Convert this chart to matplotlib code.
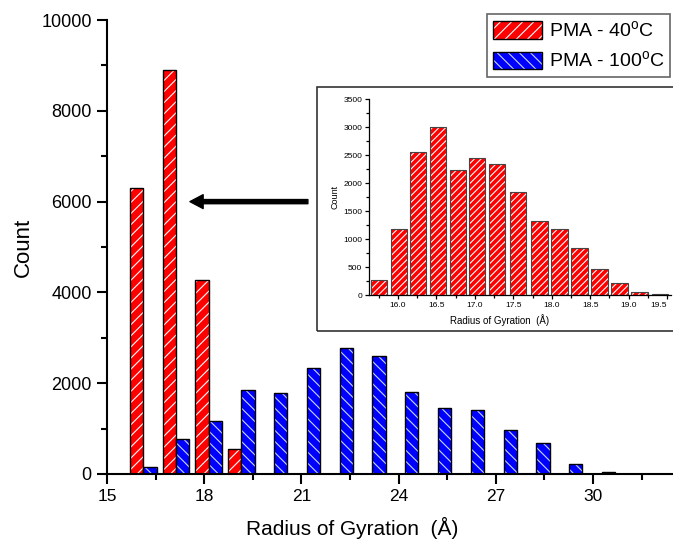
import matplotlib
matplotlib.use("Agg")
import matplotlib.pyplot as plt
from matplotlib.patches import Patch, Rectangle
from matplotlib.legend_handler import HandlerTuple
from matplotlib.ticker import MultipleLocator

plt.rcParams['font.family'] = ['Liberation Sans', 'DejaVu Sans']
plt.rcParams['mathtext.fontset'] = 'custom'
plt.rcParams['mathtext.rm'] = 'Liberation Sans'
plt.rcParams['hatch.linewidth'] = 0.8

# ---- data (main chart) ----
group_x = [16.12, 17.13, 18.14, 19.15, 20.16, 21.17, 22.18, 23.19, 24.20,
           25.22, 26.23, 27.24, 28.25, 29.26, 30.27]
red_counts = [6290, 8910, 4270, 542]
blue_counts = [145, 771, 1167, 1841, 1775, 2341, 2775, 2590, 1806,
               1445, 1410, 969, 683, 227, 44]
main_xticks = [15, 18, 21, 24, 27, 30]
main_yticks = [0, 2000, 4000, 6000, 8000, 10000]
label_40 = r"PMA - 40$^{\mathrm{o}}$C"
label_100 = r"PMA - 100$^{\mathrm{o}}$C"

# ---- data (inset) ----
inset_x = [15.753, 16.01, 16.26, 16.52, 16.78, 17.03, 17.29, 17.56,
           17.84, 18.10, 18.36, 18.62, 18.88, 19.14, 19.41]
inset_counts = [265, 1173, 2551, 3005, 2239, 2451, 2339, 1838, 1326, 1173,
                831, 466, 218, 59, 18]
inset_xticks = [16.0, 16.5, 17.0, 17.5, 18.0, 18.5, 19.0, 19.5]
inset_yticks = [0, 500, 1000, 1500, 2000, 2500, 3000, 3500]

RED = '#ff0000'
BLUE = '#0000ff'
BLUE_HATCH = '#c8d8ff'
W = 0.41

fig = plt.figure(figsize=(6.73, 5.42), dpi=100)
ax = fig.add_axes([0.159, 0.1255, 0.841, 0.8375])

red_x = [g - W / 2 for g in group_x[:len(red_counts)]]
blue_x = [g + W / 2 for g in group_x]

ax.bar(red_x, red_counts, W, color=RED, edgecolor='white', hatch='///', linewidth=0)
ax.bar(red_x, red_counts, W, fill=False, edgecolor='black', linewidth=1.0)
ax.bar(blue_x, blue_counts, W, color=BLUE, edgecolor=BLUE_HATCH, hatch='\\\\\\', linewidth=0)
ax.bar(blue_x, blue_counts, W, fill=False, edgecolor='black', linewidth=1.0)

ax.set_xlim(15, 32.47)
ax.set_ylim(0, 10000)
ax.set_xticks(main_xticks)
ax.set_yticks(main_yticks)
ax.xaxis.set_minor_locator(MultipleLocator(1.5))
ax.yaxis.set_minor_locator(MultipleLocator(1000))
for s in ['top', 'right']:
    ax.spines[s].set_visible(False)
for s in ['left', 'bottom']:
    ax.spines[s].set_linewidth(1.5)
ax.tick_params(axis='both', which='major', direction='out', length=7, width=1.5, pad=4)
ax.tick_params(axis='x', labelsize=12.5)
ax.tick_params(axis='y', labelsize=13)
ax.tick_params(axis='both', which='minor', direction='out', length=4, width=1.5)
ax.set_ylabel('Count', fontsize=16, labelpad=5)
ax.set_xlabel('Radius of Gyration  (Å)', fontsize=15, labelpad=9)
ax.xaxis.label.set_x(0.433)

# arrow
ax.annotate('', xy=(17.56, 6000), xytext=(21.2, 6000),
            arrowprops=dict(width=3, headwidth=10, headlength=9.5,
                            facecolor='black', edgecolor='black', shrink=0))

# legend
h40 = (Patch(facecolor=RED, edgecolor='white', hatch='///', linewidth=0),
       Patch(fill=False, edgecolor='black', linewidth=1.0))
h100 = (Patch(facecolor=BLUE, edgecolor=BLUE_HATCH, hatch='\\\\\\', linewidth=0),
        Patch(fill=False, edgecolor='black', linewidth=1.0))
leg = fig.legend([h40, h100], [label_40, label_100],
                 handler_map={tuple: HandlerTuple(ndivide=1, pad=0)},
                 loc='upper left', bbox_to_anchor=(487.3 / 673, 1 - 14 / 542),
                 fontsize=14, fancybox=False, framealpha=1,
                 edgecolor='#666666', handlelength=2.5, handleheight=1.0,
                 borderpad=0.3, labelspacing=0.5, handletextpad=0.35,
                 borderaxespad=0)
leg.get_frame().set_linewidth(1.2)

# inset frame
fig.patches.append(Rectangle((0.4705, 0.390), 0.55, 0.4495, transform=fig.transFigure,
                             fill=False, edgecolor='#333333', linewidth=1.2))

# inset
axi = fig.add_axes([0.5487, 0.4557, 0.4483, 0.3616])
axi.bar(inset_x, inset_counts, 0.21, color=RED, edgecolor='white', hatch='/////', linewidth=0)
axi.bar(inset_x, inset_counts, 0.21, fill=False, edgecolor='#444444', linewidth=0.8)
axi.set_xlim(15.627, 19.55)
axi.set_ylim(0, 3500)
axi.set_xticks(inset_xticks)
axi.set_xticklabels([f"{v:.1f}" for v in inset_xticks])
axi.set_yticks(inset_yticks)
axi.xaxis.set_minor_locator(MultipleLocator(0.25))
axi.yaxis.set_minor_locator(MultipleLocator(250))
for s in ['top', 'right']:
    axi.spines[s].set_visible(False)
for s in ['left', 'bottom']:
    axi.spines[s].set_linewidth(0.9)
axi.tick_params(axis='both', which='major', direction='out', length=3, width=0.9,
                labelsize=6, pad=2)
axi.tick_params(axis='both', which='minor', direction='out', length=2, width=0.9)
axi.set_ylabel('Count', fontsize=6.5, labelpad=3)
axi.set_xlabel('Radius of Gyration  (Å)', fontsize=7, labelpad=3.5)
axi.xaxis.label.set_x(0.433)
# keep last inset tick label inside the figure, as in the reference
last = axi.get_xticklabels()[-1]
last.set_horizontalalignment('right')
last.set_x(19.55)

fig.savefig('out.png', dpi=100)
